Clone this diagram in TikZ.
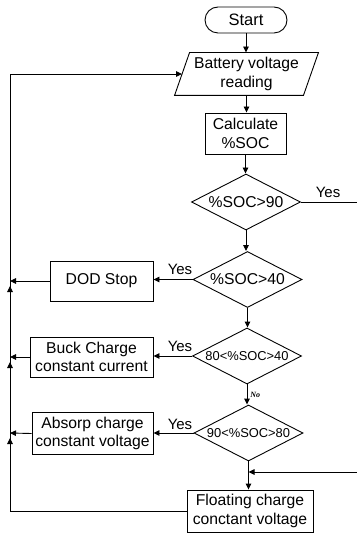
\documentclass[tikz,border=0pt]{standalone}
\usepackage{fontspec}
\setmainfont{Liberation Sans}
\newfontfamily\noserif{Liberation Serif}
\usetikzlibrary{shapes.geometric,arrows.meta,calc}
\begin{document}
\begin{tikzpicture}[x=1pt,y=-1pt,
  line width=0.9pt,
  >={Triangle[length=6pt,width=5.5pt]},
  big/.style={font=\fontsize{15.7}{18.5}\selectfont},
  small/.style={font=\fontsize{12.9}{15}\selectfont},
  boxnode/.style={draw, rectangle, inner sep=0pt, align=center, big},
  decision/.style={draw, diamond, aspect=2, inner sep=0pt, minimum width=109pt, minimum height=56pt},
  lbl/.style={font=\fontsize{15}{17}\selectfont, inner sep=0pt}
]
\useasboundingbox (0,0) rectangle (356,534);

\node[boxnode, rounded corners=13pt, minimum width=82pt, minimum height=26pt, font=\fontsize{16.5}{19}\selectfont] (start) at (246,20) {Start};
\node[rectangle, inner sep=0pt, minimum width=128pt, minimum height=42pt, align=center, big] (read) at (246.5,74) {Battery voltage\\reading};
\draw ([xshift=7.5pt]read.north west) -- ([xshift=7.5pt]read.north east) -- ([xshift=-7.5pt]read.south east) -- ([xshift=-7.5pt]read.south west) -- cycle;
\node[boxnode, minimum width=81pt, minimum height=41pt] (calc) at (245.5,133.5) {Calculate\\\%SOC};
\node[decision, big] (d1) at (246,202) {\%SOC>90};
\node[decision, big] (d2) at (247.5,279.5) {\%SOC>40};
\node[decision, small] (d3) at (247,356) {80<\%SOC>40};
\node[decision, small] (d4) at (248.5,433) {90<\%SOC>80};
\node[boxnode, minimum width=103pt, minimum height=40pt] (dod) at (101.5,281) {DOD Stop};
\node[boxnode, minimum width=123pt, minimum height=40pt] (buck) at (91.5,357) {Buck Charge\\constant current};
\node[boxnode, minimum width=121pt, minimum height=42pt] (abs) at (92.5,433.5) {Absorp charge\\constant voltage};
\node[boxnode, minimum width=126pt, minimum height=42pt] (float) at (250,511) {Floating charge\\conctant voltage};

% main column
\draw[->] (start.south) -- (start.south |- read.north);
\draw[->] (read.south) -- (read.south |- calc.north);
\draw[->] (calc.south) -- (calc.south |- d1.north);
\draw[->] (d1.south) -- (d1.south |- d2.north);
\draw[->] (d2.south) -- (d2.south |- d3.north);
\draw[->] (d3.south) -- node[right, inner sep=3pt, font=\noserif\bfseries\itshape\fontsize{8}{9}\selectfont] {No} (d3.south |- d4.north);
\draw[->] (d4.south) -- (d4.south |- float.north);

% right branch (runs off the right edge of the picture)
\coordinate (rtop) at (362,202);
\coordinate (join) at (248.5,472);
\draw[->] (d1.east) -- (rtop) |- (join);
\node[lbl] (y1) at (328,192) {Yes};

% left branches
\coordinate (l1) at (10,281);
\coordinate (l2) at (10,357);
\coordinate (l3) at (10,433);
\draw[->] (d2.west) -- (d2.west -| dod.east);
\node[lbl] (y2) at (180,269) {Yes};
\draw[->] (d3.west) -- (d3.west -| buck.east);
\node[lbl] (y3) at (180,346) {Yes};
\draw[->] (d4.west) -- (d4.west -| abs.east);
\node[lbl] (y4) at (180,424) {Yes};
\draw[->] (dod.west) -- (l1);
\draw[->] (buck.west) -- (l2);
\draw[->] (abs.west) -- (l3);

% loop back
\coordinate (lb) at (10,511);
\coordinate (lt) at (10,74);
\draw[->] (float.west) -- (lb) -- (lt) -- (read.west);
\coordinate (u1) at (10,286);
\coordinate (u2) at (10,362);
\coordinate (u3) at (10,438);
\draw[->] ([yshift=-8pt]u1) -- (u1);
\draw[->] ([yshift=-8pt]u2) -- (u2);
\draw[->] ([yshift=-8pt]u3) -- (u3);
\end{tikzpicture}
\end{document}
